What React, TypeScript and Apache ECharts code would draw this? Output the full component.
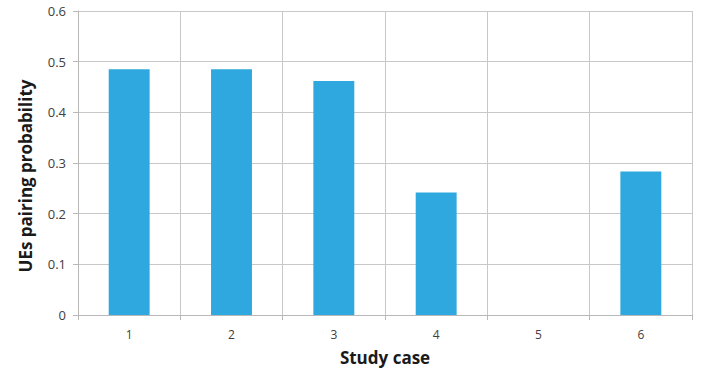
import React, { useEffect, useRef } from "react";
import * as echarts from "echarts";

const categories = ["1", "2", "3", "4", "5", "6"];
const pairingProbability = [0.485, 0.485, 0.462, 0.242, 0, 0.283];
const yTicks = [0, 0.1, 0.2, 0.3, 0.4, 0.5, 0.6];
const yTitle = "UEs pairing probability";
const xTitle = "Study case";

export default function App() {
  const ref = useRef<HTMLDivElement>(null);
  useEffect(() => {
    if (!ref.current) return;
    const chart = echarts.init(ref.current, null, { renderer: "svg" });
    const font = "'Open Sans', 'Noto Sans', sans-serif";
    chart.setOption({
      animation: false,
      grid: { left: 78, right: 18, top: 11, bottom: 57 },
      graphic: [
        {
          type: "text",
          x: 25,
          y: 176,
          rotation: Math.PI / 2,
          style: {
            text: yTitle,
            fontSize: 17,
            fontWeight: "bold",
            fill: "#1a1a1a",
            fontFamily: font,
            align: "center",
            verticalAlign: "middle",
          },
        },
      ],
      xAxis: {
        type: "category",
        data: categories,
        name: xTitle,
        nameLocation: "middle",
        nameGap: 34,
        nameTextStyle: { fontSize: 17, fontWeight: "bold", color: "#1a1a1a", fontFamily: font },
        axisLine: { lineStyle: { color: "#b8b8b8" } },
        axisTick: { show: true, length: 5, lineStyle: { color: "#b8b8b8" } },
        axisLabel: { fontSize: 12, color: "#404040", margin: 13, fontFamily: font },
        splitLine: { show: true, lineStyle: { color: "#c8c8c8" } },
      },
      yAxis: {
        type: "value",
        min: yTicks[0],
        max: yTicks[yTicks.length - 1],
        interval: 0.1,
        axisLine: { show: true, lineStyle: { color: "#b8b8b8" } },
        axisTick: { show: true, length: 5, inside: false, lineStyle: { color: "#b8b8b8" } },
        axisLabel: {
          fontSize: 13,
          color: "#404040",
          margin: 12,
          fontFamily: font,
          formatter: (v: number) => (v === 0 ? "0" : String(Math.round(v * 10) / 10)),
        },
        splitLine: { show: true, lineStyle: { color: "#c8c8c8" } },
      },
      series: [
        {
          type: "bar",
          data: pairingProbability,
          barWidth: "40%",
          itemStyle: { color: "#2ea8df" },
        },
      ],
    });
    return () => chart.dispose();
  }, []);
  return <div ref={ref} style={{ width: 710, height: 372, position: "absolute", left: 0, top: 0 }} />;
}
